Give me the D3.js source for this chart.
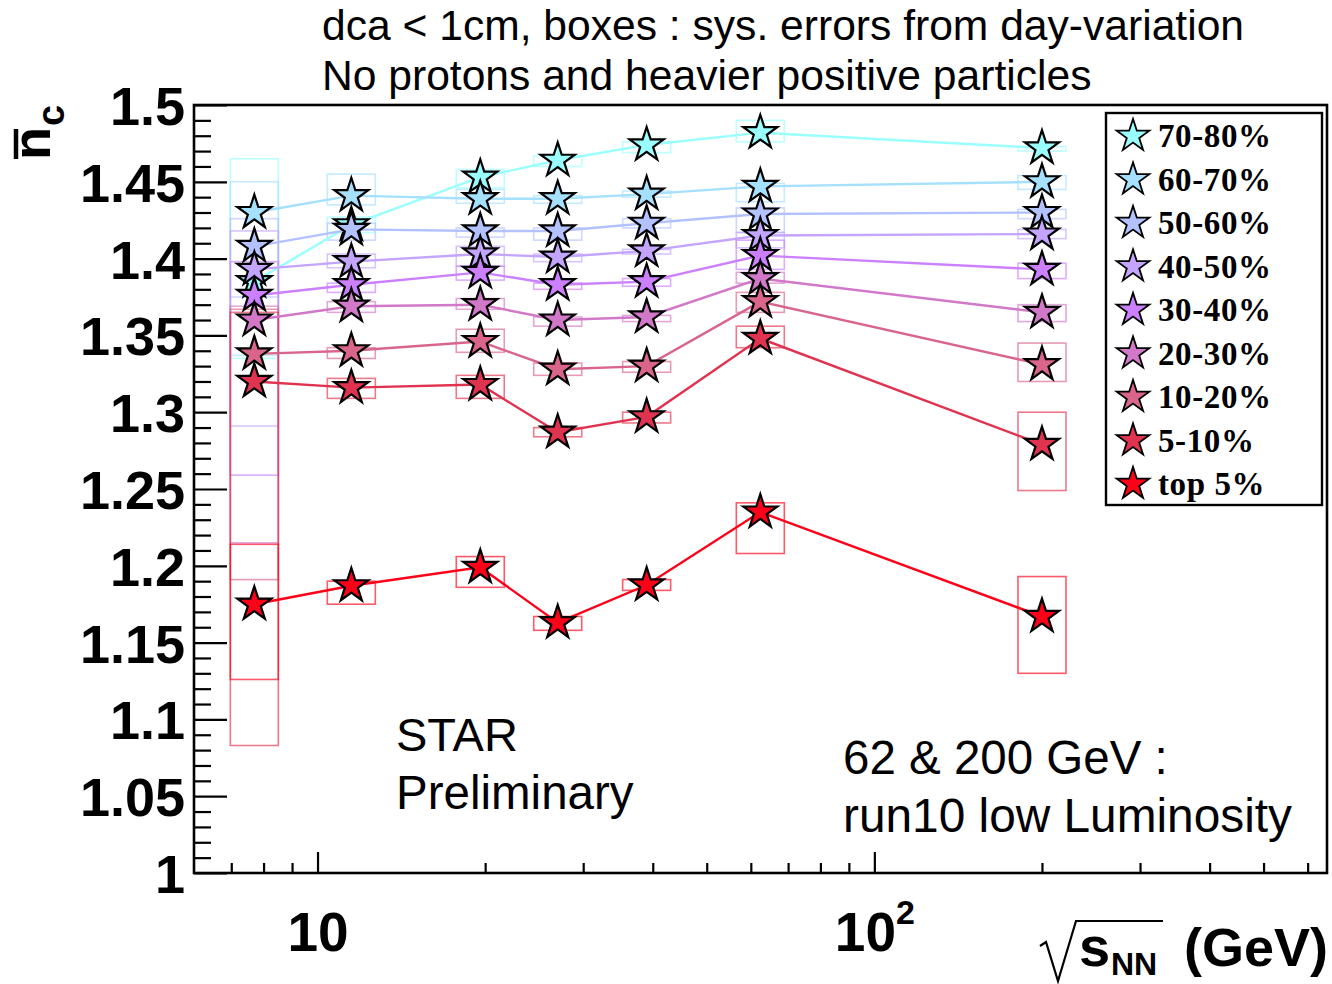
<!DOCTYPE html>
<html>
<head>
<meta charset="utf-8">
<script src="https://cdn.jsdelivr.net/npm/d3@7"></script>
<style>
  html, body { margin: 0; padding: 0; background: #fff; }
  svg { display: block; }
</style>
</head>
<body>
<div id="chart"></div>
<script>
// ---------------- DATA ----------------
const energies = [7.7, 11.5, 19.6, 27, 39, 62.4, 200];
const centralities = ["70-80%", "60-70%", "50-60%", "40-50%", "30-40%", "20-30%", "10-20%", "5-10%", "top 5%"];
const seriesColors = ["#99ffff", "#a6e0ff", "#b3c2ff", "#c3a4ff", "#cc80ff", "#d278c8", "#d9668a", "#e0334f", "#ff0019"];

const nc_70_80 = [1.385, 1.422, 1.453, 1.464, 1.474, 1.482, 1.472];
const nc_60_70 = [1.430, 1.441, 1.439, 1.439, 1.442, 1.447, 1.450];
const nc_50_60 = [1.408, 1.419, 1.418, 1.418, 1.423, 1.429, 1.430];
const nc_40_50 = [1.393, 1.398, 1.403, 1.401, 1.405, 1.415, 1.416];
const nc_30_40 = [1.376, 1.383, 1.391, 1.383, 1.385, 1.402, 1.393];
const nc_20_30 = [1.360, 1.369, 1.370, 1.360, 1.362, 1.387, 1.365];
const nc_10_20 = [1.338, 1.340, 1.346, 1.328, 1.330, 1.372, 1.331];
const nc_5_10  = [1.320, 1.316, 1.318, 1.287, 1.297, 1.348, 1.279];
const nc_top5  = [1.175, 1.187, 1.199, 1.163, 1.1875, 1.235, 1.167];

// systematic boxes (day-variation): lower and upper edges
const sysLow_70_80  = [1.335, 1.417, 1.446, 1.460, 1.469, 1.476, 1.470];
const sysHigh_70_80 = [1.465, 1.427, 1.458, 1.467, 1.476, 1.490, 1.473];
const sysLow_60_70  = [1.337, 1.435, 1.436, 1.436, 1.440, 1.437, 1.445];
const sysHigh_60_70 = [1.450, 1.455, 1.445, 1.441, 1.444, 1.449, 1.454];
const sysLow_50_60  = [1.375, 1.412, 1.414, 1.412, 1.420, 1.417, 1.426];
const sysHigh_50_60 = [1.426, 1.423, 1.420, 1.420, 1.426, 1.433, 1.432];
const sysLow_40_50  = [1.291, 1.394, 1.395, 1.398, 1.403, 1.407, 1.413];
const sysHigh_40_50 = [1.418, 1.403, 1.408, 1.403, 1.406, 1.417, 1.419];
const sysLow_30_40  = [1.259, 1.378, 1.386, 1.380, 1.382, 1.393, 1.387];
const sysHigh_30_40 = [1.398, 1.384, 1.395, 1.384, 1.387, 1.412, 1.397];
const sysLow_20_30  = [1.215, 1.365, 1.367, 1.356, 1.359, 1.384, 1.359];
const sysHigh_20_30 = [1.369, 1.372, 1.374, 1.362, 1.363, 1.391, 1.370];
const sysLow_10_20  = [1.191, 1.335, 1.339, 1.324, 1.326, 1.365, 1.320];
const sysHigh_10_20 = [1.367, 1.342, 1.354, 1.332, 1.333, 1.378, 1.345];
const sysLow_5_10   = [1.083, 1.309, 1.309, 1.284, 1.293, 1.342, 1.249];
const sysHigh_5_10  = [1.365, 1.322, 1.324, 1.290, 1.300, 1.356, 1.300];
const sysLow_top5   = [1.126, 1.175, 1.186, 1.158, 1.184, 1.208, 1.130];
const sysHigh_top5  = [1.214, 1.190, 1.206, 1.167, 1.191, 1.241, 1.193];

const yMajorTicks = [1, 1.05, 1.1, 1.15, 1.2, 1.25, 1.3, 1.35, 1.4, 1.45, 1.5];
const yTickLabels = ["1", "1.05", "1.1", "1.15", "1.2", "1.25", "1.3", "1.35", "1.4", "1.45", "1.5"];
const xMajorTicks = [10, 100];
const xMinorTicks = [7, 8, 9, 20, 30, 40, 50, 60, 70, 80, 90, 200, 300, 400, 500, 600];

const values = [nc_70_80, nc_60_70, nc_50_60, nc_40_50, nc_30_40, nc_20_30, nc_10_20, nc_5_10, nc_top5];
const sysLows = [sysLow_70_80, sysLow_60_70, sysLow_50_60, sysLow_40_50, sysLow_30_40, sysLow_20_30, sysLow_10_20, sysLow_5_10, sysLow_top5];
const sysHighs = [sysHigh_70_80, sysHigh_60_70, sysHigh_50_60, sysHigh_40_50, sysHigh_30_40, sysHigh_20_30, sysHigh_10_20, sysHigh_5_10, sysHigh_top5];

const series = centralities.map((c, i) => ({
  name: c, color: seriesColors[i],
  points: energies.map((e, j) => ({ e, v: values[i][j], lo: sysLows[i][j], hi: sysHighs[i][j] }))
}));

// ---------------- LAYOUT ----------------
const W = 1332, H = 984;
const L = 194, R = 1327, T = 105, B = 873;
const sans = "'Liberation Sans', Arial, Helvetica, sans-serif";
const serif = "'Liberation Serif', 'Times New Roman', serif";

const svg = d3.select("#chart").append("svg").attr("width", W).attr("height", H);

const x = d3.scaleLog().domain([6, 650]).range([L, R]);
const y = d3.scaleLinear().domain([1, 1.5]).range([B, T]);

// ---------------- AXES ----------------
const yMinorVals = d3.range(0, 51).map(i => 1 + i * 0.01).filter(v => !yMajorTicks.some(m => Math.abs(m - v) < 1e-6));

const yMinorAxis = d3.axisLeft(y).tickValues(yMinorVals).tickSize(-17).tickFormat("");
const yMajorAxis = d3.axisLeft(y).tickValues(yMajorTicks).tickSize(-33).tickPadding(9)
  .tickFormat((d, i) => yTickLabels[i]);

const gyMin = svg.append("g").attr("transform", `translate(${L},0)`).call(yMinorAxis);
const gyMaj = svg.append("g").attr("transform", `translate(${L},0)`).call(yMajorAxis);
[gyMin, gyMaj].forEach(g => {
  g.select(".domain").remove();
  g.selectAll(".tick line").attr("stroke", "#000").attr("stroke-width", 2.2);
});
gyMaj.selectAll(".tick text")
  .attr("font-family", sans).attr("font-weight", "bold").attr("font-size", 54)
  .attr("fill", "#000").attr("dy", "0.36em");

const xMinorAxis = d3.axisBottom(x).tickValues(xMinorTicks).tickSize(-10).tickFormat("");
const xMajorAxis = d3.axisBottom(x).tickValues(xMajorTicks).tickSize(-21).tickFormat("");
const gxMin = svg.append("g").attr("transform", `translate(0,${B})`).call(xMinorAxis);
const gxMaj = svg.append("g").attr("transform", `translate(0,${B})`).call(xMajorAxis);
[gxMin, gxMaj].forEach(g => {
  g.select(".domain").remove();
  g.selectAll(".tick line").attr("stroke", "#000").attr("stroke-width", 2.2);
});
// x tick labels: 10 and 10^2
const xl = gxMaj.selectAll(".tick").append("text")
  .attr("y", 78).attr("text-anchor", "middle")
  .attr("font-family", sans).attr("font-weight", "bold").attr("font-size", 55).attr("fill", "#000");
xl.each(function(d) {
  const t = d3.select(this);
  if (d === 10) t.text("10");
  else {
    t.append("tspan").text("10");
    t.append("tspan").attr("font-size", 34).attr("dy", -27).text("2");
  }
});

// frame
svg.append("rect").attr("x", L).attr("y", T).attr("width", R - L).attr("height", B - T)
  .attr("fill", "none").attr("stroke", "#000").attr("stroke-width", 2.6);

// ---------------- SYS BOXES ----------------
const boxHalf = 24;
const plot = svg.append("g");
series.forEach(s => {
  plot.append("g").selectAll("rect").data(s.points).join("rect")
    .attr("x", d => x(d.e) - boxHalf).attr("width", 2 * boxHalf)
    .attr("y", d => y(d.hi)).attr("height", d => y(d.lo) - y(d.hi))
    .attr("fill", "none").attr("stroke", s.color).attr("stroke-width", 1.6).attr("stroke-opacity", 0.65);
});

// ---------------- LINES + STARS ----------------
const line = d3.line().x(d => x(d.e)).y(d => y(d.v));
const star = d3.symbol().type(d3.symbolStar).size(360);
series.forEach(s => {
  const g = plot.append("g");
  g.append("path").datum(s.points).attr("d", line)
    .attr("fill", "none").attr("stroke", s.color).attr("stroke-width", 2.4);
  g.selectAll("path.star").data(s.points).join("path").attr("class", "star")
    .attr("d", star)
    .attr("transform", d => `translate(${x(d.e)},${y(d.v)})`)
    .attr("fill", s.color).attr("stroke", "#000").attr("stroke-width", 2.2).attr("stroke-linejoin", "miter");
});

// ---------------- LEGEND ----------------
const lg = svg.append("g");
lg.append("rect").attr("x", 1106).attr("y", 113).attr("width", 216).attr("height", 392)
  .attr("fill", "#fff").attr("stroke", "#000").attr("stroke-width", 2.4);
const legendY = d3.scalePoint().domain(centralities).range([136, 484]);
const li = lg.selectAll("g.li").data(series).join("g").attr("class", "li")
  .attr("transform", d => `translate(0,${legendY(d.name)})`);
li.append("path").attr("d", d3.symbol().type(d3.symbolStar).size(330)())
  .attr("transform", "translate(1133,0)")
  .attr("fill", d => d.color).attr("stroke", "#000").attr("stroke-width", 1.8);
li.append("text").attr("x", 1158).attr("y", 11)
  .attr("font-family", serif).attr("font-weight", "bold").attr("font-size", 33)
  .attr("letter-spacing", 0.6)
  .attr("fill", "#000").text(d => d.name);

// ---------------- TEXTS ----------------
const txt = (x0, y0, s, size) => svg.append("text").attr("x", x0).attr("y", y0).attr("font-family", sans)
    .attr("font-size", size).attr("fill", "#000").text(s);
txt(322, 40, "dca < 1cm, boxes : sys. errors from day-variation", 42.6);
txt(322, 90, "No protons and heavier positive particles", 42.6);
txt(396, 751, "STAR", 47);
txt(396, 809, "Preliminary", 47.5);
txt(843, 774, "62 & 200 GeV :", 47.5);
txt(843, 832, "run10 low Luminosity", 47.8);

// x axis title: sqrt(s_NN) (GeV)
svg.append("path").attr("d", "M1040,946 L1046,942 L1058,981 L1076,921 L1163,921")
  .attr("fill", "none").attr("stroke", "#000").attr("stroke-width", 2.2);
svg.append("text").attr("x", 1079).attr("y", 966)
  .attr("font-family", sans).attr("font-weight", "bold").attr("font-size", 56).attr("fill", "#000")
  .text("s");
svg.append("text").attr("x", 1111).attr("y", 975)
  .attr("font-family", sans).attr("font-weight", "bold").attr("font-size", 32).attr("fill", "#000")
  .text("NN");
svg.append("text").attr("x", 1328).attr("y", 966).attr("text-anchor", "end")
  .attr("font-family", sans).attr("font-weight", "bold").attr("font-size", 54).attr("fill", "#000")
  .text("(GeV)");

// y axis title: n-bar_c
const yt = svg.append("g").attr("transform", "translate(50,160) rotate(-90)");
yt.append("text").attr("x", 0).attr("y", 0)
  .attr("font-family", sans).attr("font-weight", "bold").attr("font-size", 54).attr("fill", "#000").text("n");
yt.append("line").attr("x1", 1).attr("x2", 31).attr("y1", -34).attr("y2", -34)
  .attr("stroke", "#000").attr("stroke-width", 4.5);
yt.append("text").attr("x", 34).attr("y", 14)
  .attr("font-family", sans).attr("font-weight", "bold").attr("font-size", 38).attr("fill", "#000").text("c");
</script>
</body>
</html>
